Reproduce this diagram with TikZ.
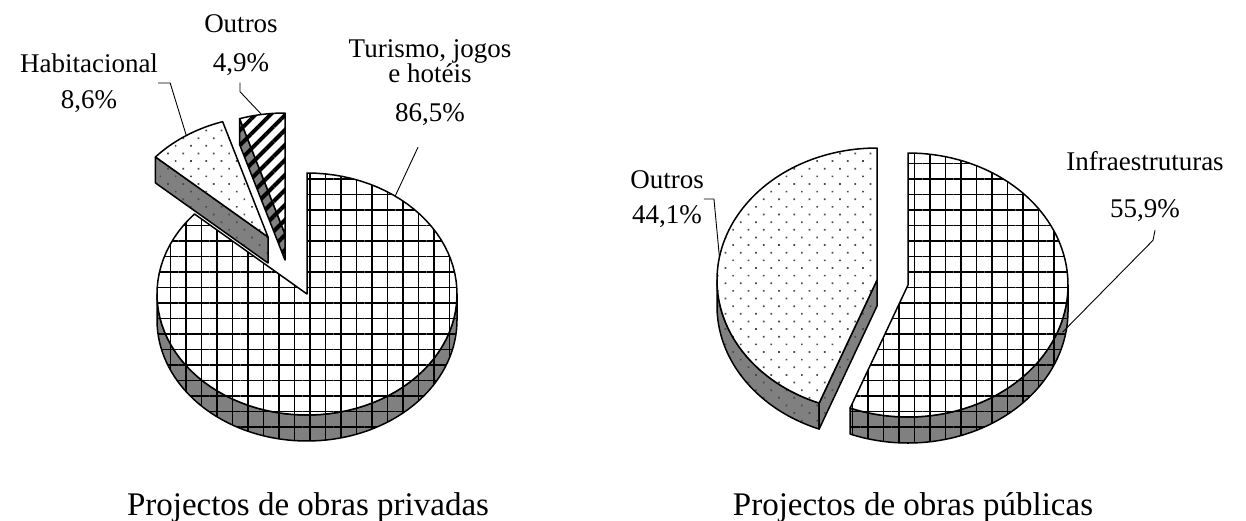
\documentclass[tikz,border=0pt]{standalone}
\usepackage{fontspec}
\setmainfont{Liberation Serif}
\usetikzlibrary{patterns.meta}

% rim of a pie slice: centre x, centre y, x radius, y radius, from angle, to angle (clockwise from top)
\newcommand\rimto[6]{-- plot[domain=#5:#6,samples=90,variable=\t]({#1+#3*sin(\t)},{#2-#4*cos(\t)})}

\begin{document}
\begin{tikzpicture}
    [ x=1pt, y=-1pt
    , sideface/.style={draw,line width=1.5pt,line join=round,preaction={fill=gray}}
    , topface/.style={draw,line width=1.5pt,line join=round,preaction={fill=white}}
    , gridpat/.style={pattern={Hatch[angle=0,distance=15.5pt,line width=1.9pt]}}
    , dotpat/.style={pattern={Dots[angle=45,distance=10.8pt,radius=1.2pt]},pattern color=black!70}
    , stripes/.style={pattern={Lines[angle=45,distance=10.6pt,line width=4pt]}}
    , leader/.style={draw,line width=0.9pt}
    , lbl/.style={font=\fontsize{27}{36}\selectfont,align=center,inner sep=0pt}
    , chartname/.style={font=\fontsize{33}{40}\selectfont,anchor=base,inner sep=0pt}
    ]
    \useasboundingbox (0,0) rectangle (1246,520);

    % obras privadas
    \path [sideface, gridpat] (457,294) \rimto{307}{294}{150}{121}{90}{270} \rimto{307}{320}{150}{121}{270}{90} -- cycle;
    \path [topface, gridpat] (307,294) \rimto{307}{294}{150}{121}{0}{311.4} -- cycle;

    \path [sideface, dotpat] (268,237) -- ({268+150*sin(311.4)},{237-121*cos(311.4)}) -- ++(0,26) -- (268,263) -- cycle;
    \path [topface, dotpat] (268,237) \rimto{268}{237}{150}{121}{311.4}{342.4} -- cycle;

    \path [sideface, stripes] (285,234) -- ({285+150*sin(342.4)},{234-121*cos(342.4)}) -- ++(0,26) -- (285,260) -- cycle;
    \path [topface, stripes] (285,234) \rimto{285}{234}{150}{121}{342.4}{360} -- cycle;

    % obras publicas
    \path [sideface, dotpat] ({877+160*sin(201.2)},{280-132*cos(201.2)}) \rimto{877}{280}{160}{132}{201.2}{270} \rimto{877}{306}{160}{132}{270}{201.2} -- cycle;
    \path [sideface, dotpat] (877,280) -- ({877+160*sin(201.2)},{280-132*cos(201.2)}) -- ++(0,26) -- (877,306) -- cycle;
    \path [topface, dotpat] (877,280) \rimto{877}{280}{160}{132}{201.2}{360} -- cycle;

    \path [sideface, gridpat] (1068,285) \rimto{908}{285}{160}{132}{90}{201.2} \rimto{908}{311}{160}{132}{201.2}{90} -- cycle;
    \path [topface, gridpat] (908,285) \rimto{908}{285}{160}{132}{0}{201.2} -- cycle;

    \coordinate (habP)  at ({268+150*sin(327)},{237-121*cos(327)});
    \coordinate (outLP) at ({285+150*sin(351)},{234-121*cos(351)});
    \coordinate (turP)  at ({307+150*sin(36)},{294-121*cos(36)});
    \coordinate (outRP) at ({877+160*sin(280)},{280-132*cos(280)});
    \coordinate (infP)  at ({908+160*sin(105)},{298-132*cos(105)});

    \node [lbl] (habL) at (89,83) {Habitacional\\8,6\%};
    \node [lbl, font=\fontsize{27}{39}\selectfont] (outL) at (241,45) {Outros\\4,9\%};
    \node [lbl, font=\fontsize{27}{25}\selectfont] (turL) at (430,83) {Turismo, jogos\\e hotéis\\[14pt]86,5\%};
    \node [lbl, font=\fontsize{27}{35}\selectfont] (outR) at (667,199) {Outros\\44,1\%};
    \node [lbl, font=\fontsize{27}{47}\selectfont] (infL) at (1145,187) {Infraestruturas\\55,9\%};

    \draw [leader] (habL.east) -- ++(12,0) -- (habP);
    \draw [leader] (outL.south) ++(-1,7) -- ++(0,9) -- (outLP);
    \draw [leader] (turL.south) ++(-12,21) -- (turP);
    \draw [leader] (outR.east) -- ++(10,0) -- (outRP);
    \draw [leader] (infL.south) ++(10,8) -- ++(-2,10) -- (infP);

    \node [chartname] (privT) at (308,515) {Projectos de obras privadas};
    \node [chartname] (pubT)  at (913,515) {Projectos de obras públicas};
\end{tikzpicture}
\end{document}
